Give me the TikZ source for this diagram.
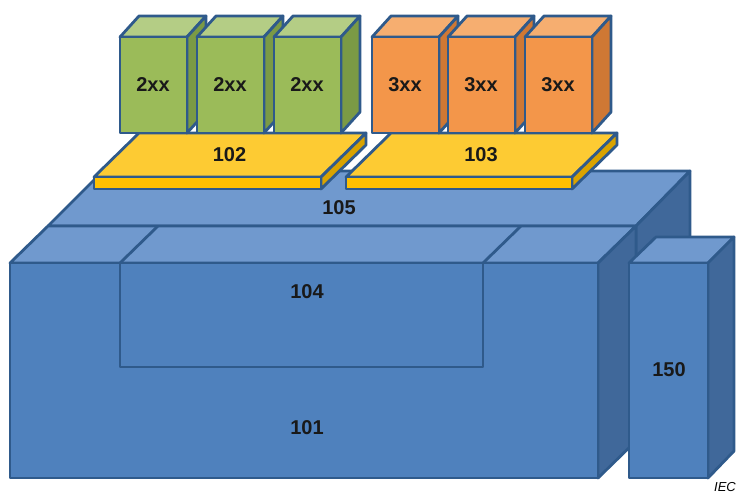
\documentclass[tikz,border=0pt]{standalone}
\usepackage{fontspec}
\setmainfont{Liberation Sans}
\usepackage{tikz}

\definecolor{bfront}{HTML}{4F81BD}
\definecolor{btop}{HTML}{7099CE}
\definecolor{bside}{HTML}{40689A}
\definecolor{edge}{HTML}{2F5A8B}
\definecolor{gfront}{HTML}{9BBB59}
\definecolor{gtop}{HTML}{B4CD85}
\definecolor{gside}{HTML}{7B9A45}
\definecolor{ofront}{HTML}{F3964A}
\definecolor{otop}{HTML}{F6AE70}
\definecolor{oside}{HTML}{CF7834}
\definecolor{yfront}{HTML}{FFC000}
\definecolor{ytop}{HTML}{FDCB33}
\definecolor{yside}{HTML}{D9A300}

\begin{document}
\begin{tikzpicture}[x=1pt,y=-1pt,
  face/.style={draw=edge,line width=2.8pt,line join=round},
  lbl/.style={font=\fontsize{20}{24}\selectfont\bfseries,text=black!90}]
\useasboundingbox (0,0) rectangle (736,493);
% 105, behind 101
\filldraw[face,fill=btop] (48,226)--(103,171)--(690,171)--(636,226)--cycle;
\filldraw[face,fill=bside] (636,226)--(690,171)--(690,386)--(636,441)--cycle;
\node[lbl] (n105) at (339,208) {105};
% 101 with 104 inside
\coordinate (A) at (10,263);
\coordinate (B) at (598,478);
\filldraw[face,fill=btop] (A)--(48,226)--(636,226)--(598,263)--cycle;
\filldraw[face,fill=bside] (598,263)--(636,226)--(636,441)--(598,478)--cycle;
\filldraw[face,fill=bfront] (A) rectangle (B);
\draw[face] (120,263)--(158,226);
\draw[face] (483,263)--(521,226);
\draw[face] (120,263)--(120,367)--(483,367)--(483,263);
\node[lbl] (n104) at (307,292) {104};
\node[lbl] (n101) at (307,428) {101};
% 150
\filldraw[face,fill=btop] (629,263)--(656,237)--(734,237)--(708,263)--cycle;
\filldraw[face,fill=bside] (708,263)--(734,237)--(734,451)--(708,478)--cycle;
\filldraw[face,fill=bfront] (629,263) rectangle (708,478);
\node[lbl] (n150) at (669,370) {150};
% slabs 102 and 103
\foreach \x/\w/\t in {94/227/102,346/226/103} {
  \filldraw[face,fill=ytop] (\x,177)--(\x+45,133)--(\x+\w+45,133)--(\x+\w,177)--cycle;
  \filldraw[face,fill=yside] (\x+\w,177)--(\x+\w+45,133)--(\x+\w+45,145)--(\x+\w,189)--cycle;
  \filldraw[face,fill=yfront] (\x,177) rectangle (\x+\w,189);
  \node[lbl] (n\t) at (\x+\w/2+22,155) {\t};
}
% 2xx and 3xx modules
\foreach \x/\c/\t in {120/g/2xx,197/g/2xx,274/g/2xx,372/o/3xx,448/o/3xx,525/o/3xx} {
  \filldraw[face,fill=\c top] (\x,37)--(\x+19,16)--(\x+86,16)--(\x+67,37)--cycle;
  \filldraw[face,fill=\c side] (\x+67,37)--(\x+86,16)--(\x+86,112)--(\x+67,133)--cycle;
  \filldraw[face,fill=\c front] (\x,37) rectangle (\x+67,133);
  \node[lbl] (m\x) at (\x+33,85) {\t};
}
\node[anchor=south east,inner sep=0pt,font=\fontsize{13}{15}\selectfont\itshape] (iec) at (736,492) {IEC};
\end{tikzpicture}
\end{document}
